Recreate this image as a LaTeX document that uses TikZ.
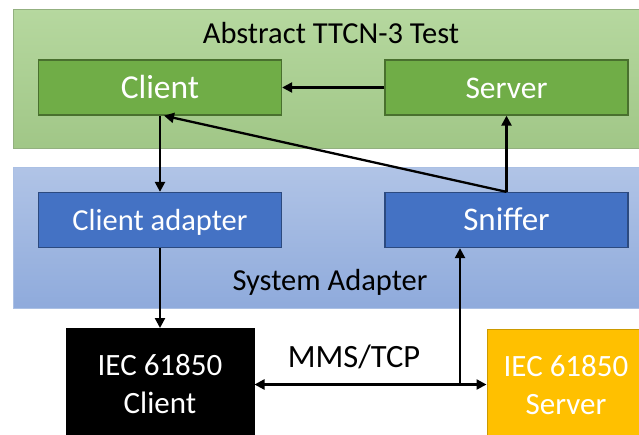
\documentclass[tikz,border=0pt]{standalone}
\usepackage{fontspec}
\setmainfont{Carlito}
\usetikzlibrary{arrows.meta}
\definecolor{panelgreen}{HTML}{A9D18E}
\definecolor{boxgreen}{HTML}{70AD47}
\definecolor{boxblue}{HTML}{4472C4}
\definecolor{iecorange}{HTML}{FFC000}

\begin{document}
\begin{tikzpicture}[x=1pt,y=-1pt,
    txt/.style={font=\fontsize{30.5}{36}\selectfont},
    greenbox/.style={draw=boxgreen!65!black,line width=1.3pt,fill=boxgreen,text=white,
      minimum width=243pt,minimum height=55pt,text height=22pt,text depth=1pt,
      font=\fontsize{31.5}{37}\selectfont},
    bluebox/.style={greenbox,draw=boxblue!65!black,fill=boxblue},
    iecbox/.style={draw=black,line width=1pt,text=white,anchor=north,align=center,
      minimum height=112pt,font=\fontsize{31}{38}\selectfont},
    arr/.style={line width=2.3pt,-{Triangle[length=10pt,width=10pt]}},
    arrboth/.style={arr,{Triangle[length=10pt,width=10pt]}-{Triangle[length=10pt,width=10pt]}}]
      \useasboundingbox (0,0) rectangle (639,434);
      % Panels
      \draw[draw=panelgreen!80!black!90,line width=0.8pt,top color=panelgreen!85!white,bottom color=panelgreen!95!black]
        (13,9) rectangle (645,148);
      \draw[draw=boxblue!45!white,line width=0.8pt,top color=boxblue!42!white,bottom color=boxblue!60!white]
        (13,167) rectangle (645,308);
      \node[txt] (ttcn) at (331,33) {Abstract TTCN-3 Test};
      \node[txt] (sa) at (330,282) {System Adapter};
      % Test components
      \node[greenbox,font=\fontsize{33.5}{39}\selectfont] (client) at (160,87.5) {Client};
      \node[greenbox] (server) at (506.5,87.5) {Server};
      % Adapter components
      \node[bluebox,font=\fontsize{30.5}{36}\selectfont] (cadapt) at (160,220) {Client adapter};
      \node[bluebox,font=\fontsize{33}{39}\selectfont] (sniffer) at (506.5,220) {Sniffer};
      % SUT
      \node[iecbox,fill=black,minimum width=188pt] (iecc) at (160,328) {IEC 61850\\Client};
      \node[iecbox,draw=iecorange!80!black,fill=iecorange,minimum width=158pt] (iecs) at (566,329) {IEC 61850\\Server};
      \node[txt,font=\fontsize{32.5}{38}\selectfont] (mms) at (354,357) {MMS/TCP};
      \coordinate (tap) at (iecc.east -| 460,0);
      % Arrows
      \draw[arr] (server) -- (client);
      \draw[arr] (client) -- (cadapt);
      \draw[arr] (cadapt) -- (iecc);
      \draw[arrboth] (iecc.east) -- (iecc.east -| iecs.west);
      \draw[arr] (tap) -- (tap |- sniffer.south);
      \draw[arr] (sniffer) -- (server);
      \draw[arr] (sniffer.north) -- ([xshift=4pt]client.south);
    \end{tikzpicture}
\end{document}
